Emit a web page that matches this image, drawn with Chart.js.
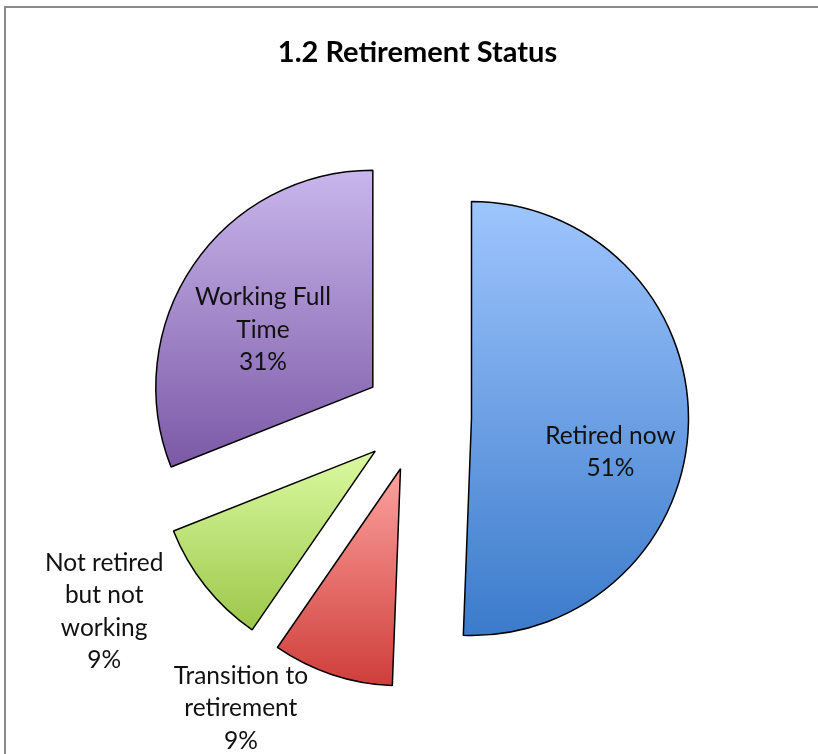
<!DOCTYPE html>
<html>
<head>
<meta charset="utf-8">
<script src="https://cdn.jsdelivr.net/npm/chart.js@4.4.0/dist/chart.umd.min.js"></script>
<style>
  html, body { margin: 0; padding: 0; background: #fff; }
  #wrap { position: relative; width: 818px; height: 754px; overflow: hidden; }
  #frame { position: absolute; left: 4px; top: 6px; width: 900px; height: 900px;
           border-left: 2px solid #8a8a8a; border-top: 2px solid #8a8a8a; }
  canvas { position: absolute; left: 0; top: 0; }
</style>
</head>
<body>
<div id="wrap">
  <div id="frame"></div>
  <canvas id="status-chart" width="818" height="754"></canvas>
</div>
<script>
// 범주와 비율 (%)
const categories = ['Retired now', 'Transition to retirement', 'Not retired but not working', 'Working Full Time'];
const percents = [50.6, 9.0, 9.4, 31.0];

// 조각 색 (위 -> 아래 그라데이션)
const topColors = ['#9ec5fd', '#fca29f', '#dbfaa1', '#c9b6ec'];
const bottomColors = ['#3b7bcb', '#cf3e3a', '#9cc74a', '#7b59a6'];

const RADIUS = 217;
const EXPLODE = 54;
const FONT = 'Lato';

// 라벨 위치: 조각 꼭짓점에서 거리, 이등분선 기준 회전(도)
const labelPlace = [
  { dist: 143, turn: 12.6 },
  { dist: 288, turn: 15.3 },
  { dist: 315, turn: 7.9 },
  { dist: 124, turn: -6.6 }
];

function sliceAngles(data, i) {
  const total = data.reduce((a, b) => a + b, 0);
  let start = -Math.PI / 2;
  for (let k = 0; k < i; k++) start += data[k] / total * Math.PI * 2;
  return { start, end: start + data[i] / total * Math.PI * 2 };
}

// 조각마다 세로 그라데이션 (분리된 위치 기준)
function sliceGradient(context) {
  const chart = context.chart;
  const area = chart.chartArea;
  const i = context.dataIndex;
  if (!area || i === undefined) return topColors[i || 0];
  const { start, end } = sliceAngles(context.dataset.data, i);
  const mid = (start + end) / 2;
  const cy = (area.top + area.bottom) / 2 + Math.sin(mid) * EXPLODE;
  let top = cy, bottom = cy;
  for (let s = 0; s <= 60; s++) {
    const y = cy + Math.sin(start + (end - start) * s / 60) * RADIUS;
    top = Math.min(top, y);
    bottom = Math.max(bottom, y);
  }
  const g = chart.ctx.createLinearGradient(0, top, 0, bottom);
  g.addColorStop(0, topColors[i]);
  g.addColorStop(1, bottomColors[i]);
  return g;
}

// 조각을 바깥쪽으로 밀어냄 (반지름, 각도는 그대로)
const explodeSlices = {
  id: 'explodeSlices',
  afterDatasetUpdate(chart, args) {
    args.meta.data.forEach(arc => {
      const mid = (arc.startAngle + arc.endAngle) / 2;
      arc.x += Math.cos(mid) * EXPLODE;
      arc.y += Math.sin(mid) * EXPLODE;
    });
  }
};

function wrap(ctx, text, maxWidth) {
  const words = text.split(' ');
  const lines = [];
  let line = '';
  words.forEach(w => {
    const test = line ? line + ' ' + w : w;
    if (line && ctx.measureText(test).width > maxWidth) {
      lines.push(line);
      line = w;
    } else {
      line = test;
    }
  });
  lines.push(line);
  return lines;
}

const sliceLabels = {
  id: 'sliceLabels',
  afterDatasetsDraw(chart) {
    const c = chart.ctx;
    const meta = chart.getDatasetMeta(0);
    c.save();
    c.font = '24.5px ' + FONT;
    c.fillStyle = '#111';
    c.textAlign = 'center';
    c.textBaseline = 'middle';
    meta.data.forEach((arc, i) => {
      const mid = (arc.startAngle + arc.endAngle) / 2;
      const p = labelPlace[i];
      const a = mid + p.turn * Math.PI / 180;
      const x = arc.x + Math.cos(a) * p.dist;
      const y = arc.y + Math.sin(a) * p.dist;
      const lines = wrap(c, categories[i], 150).concat([Math.round(percents[i]) + '%']);
      lines.forEach((t, k) => c.fillText(t, x, y + (k - (lines.length - 1) / 2) * 32.5));
    });
    c.restore();
  }
};

new Chart(document.getElementById('status-chart'), {
  type: 'pie',
  data: {
    labels: categories,
    datasets: [{
      data: percents,
      backgroundColor: sliceGradient,
      borderColor: '#000',
      borderWidth: 1.5,
      radius: RADIUS
    }]
  },
  options: {
    responsive: false,
    animation: false,
    events: [],
    layout: { padding: { left: 17, right: 0, top: 0, bottom: 0 } },
    plugins: {
      legend: { display: false },
      tooltip: { enabled: false },
      title: {
        display: true,
        text: '1.2 Retirement Status',
        color: '#000',
        font: { family: FONT, size: 29, weight: 'bold', lineHeight: 1.2 },
        padding: { top: 35, bottom: 11.2 }
      }
    }
  },
  plugins: [explodeSlices, sliceLabels]
});
</script>
</body>
</html>
